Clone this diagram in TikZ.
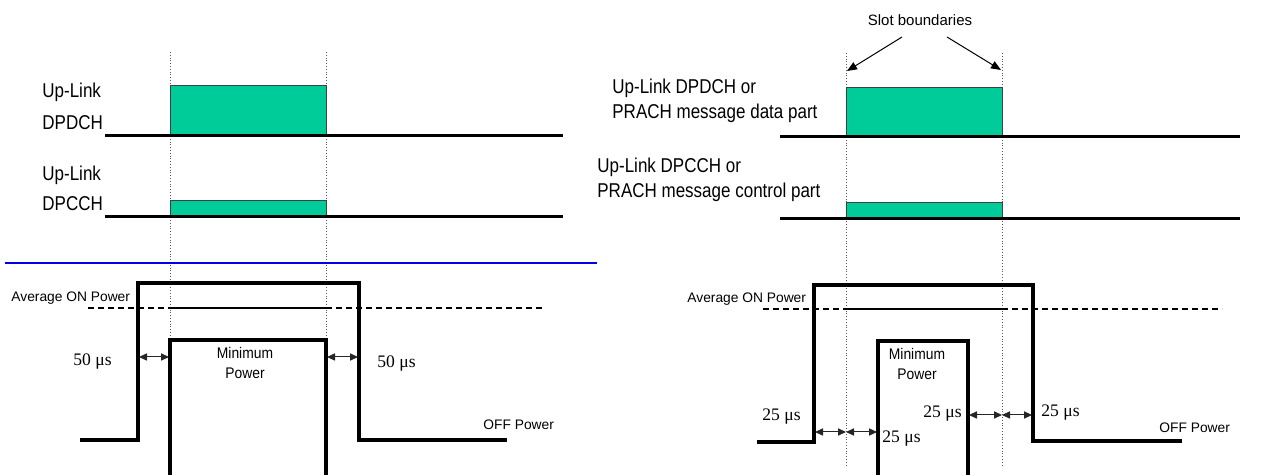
\documentclass[tikz,border=0pt]{standalone}
\usepackage{fontspec}
\setmainfont{Liberation Sans}
\newfontfamily\timesfont{Liberation Serif}
\newfontfamily\narrowsans[FakeStretch=0.85]{Liberation Sans}
\newfontfamily\minsans[FakeStretch=0.9]{Liberation Sans}
\usetikzlibrary{arrows.meta,positioning}
\definecolor{burstgreen}{RGB}{0,204,153}
\definecolor{dividerblue}{RGB}{0,0,230}
\tikzset{
    % channel time lines and bursts
    chanline/.style={line width=1.5pt, black},
    burst/.style={draw=black!75, fill=burstgreen, line width=0.5pt},
    slotmark/.style={densely dotted, line width=0.4pt, black!65},
    divider/.style={line width=1pt, dividerblue},
    % power mask
    powerline/.style={line width=2pt, black, line join=miter},
    avgdash/.style={line width=0.9pt, dash pattern=on 3pt off 2pt},
    avgsolid/.style={line width=1.4pt},
    gaparrow/.style={{Triangle[length=4pt,width=3.6pt]}-{Triangle[length=4pt,width=3.6pt]}, line width=0.5pt, black!85},
    pointer/.style={-{Triangle[length=5pt,width=4pt]}, line width=0.5pt},
}
\tikzset{
    % text styles
    chanlabel/.style={font=\narrowsans\fontsize{10}{12}\selectfont, anchor=base west, inner sep=0pt},
    smalllabel/.style={font=\fontsize{6.9}{8}\selectfont, anchor=base west, inner sep=0pt},
    minlabel/.style={font=\minsans\fontsize{7.7}{9}\selectfont, anchor=base, inner sep=0pt},
    timelabel/.style={font=\timesfont\fontsize{8.8}{10}\selectfont, anchor=base west, inner sep=0pt},
}

\begin{document}
\begin{tikzpicture}[x=0.5pt,y=-0.5pt]
    \useasboundingbox (0,0) rectangle (1265,475);

    % ---------- left: channels ----------
    \foreach \x in {170,326}{\draw[slotmark] (\x,52) -- (\x,340);}
    \draw[burst] (170,86) rectangle (326,136);
    \draw[burst] (170,201) rectangle (326,217);
    \draw[chanline] (105,136) -- (563,136);
    \draw[chanline] (105,217) -- (563,217);
    \node[chanlabel] (ulA) at (42,98) {Up-Link};
    \node[chanlabel] (dpdch) at (42,130) {DPDCH};
    \node[chanlabel] (ulB) at (42,181) {Up-Link};
    \node[chanlabel] (dpcch) at (42,211) {DPCCH};
    \draw[divider] (5,263) -- (597,263);

    % ---------- left: power mask ----------
    \coordinate (la) at (80,440);  \coordinate (lb) at (138,440);
    \coordinate (lc) at (138,283); \coordinate (ld) at (359,283);
    \coordinate (le) at (359,440); \coordinate (lf) at (507,440);
    \draw[powerline] (la) -- (lb) -- (lc) -- (ld) -- (le) -- (lf);
    \draw[powerline] (170,475) -- (170,340) -- (326,340) -- (326,475);
    \draw[avgdash] (88,308) -- (170,308);
    \draw[avgsolid] (170,308) -- (326,308);
    \draw[avgdash] (326,308) -- (545,308);
    \coordinate (lg1) at (139,357); \coordinate (lg2) at (169,357);
    \coordinate (lg3) at (327,357); \coordinate (lg4) at (358,357);
    \draw[gaparrow] (lg1) -- (lg2);
    \draw[gaparrow] (lg3) -- (lg4);
    \node[smalllabel] (avgL) at (11,302) {Average ON Power};
    \node[minlabel] (minL) at (245,359) {Minimum};
    \node[minlabel] (minLb) at (245,379) {Power};
    \node[timelabel] (tL1) at (73,366) {50 μs};
    \node[timelabel] (tL2) at (377,368) {50 μs};
    \node[smalllabel] (offL) at (483,430) {OFF Power};

    % ---------- right: channels ----------
    \foreach \x in {846,1002}{\draw[slotmark] (\x,53) -- (\x,467);}
    \draw[burst] (846,88) rectangle (1002,137);
    \draw[burst] (846,203) rectangle (1002,219);
    \draw[chanline] (780,137) -- (1240,137);
    \draw[chanline] (780,219) -- (1240,219);
    \node[chanlabel] (dataA) at (612,94) {Up-Link DPDCH or};
    \node[chanlabel] (dataB) at (612,119) {PRACH message data part};
    \node[chanlabel] (ctrlA) at (597,173) {Up-Link DPCCH or};
    \node[chanlabel] (ctrlB) at (597,198) {PRACH message control part};
    \node[font=\fontsize{7.5}{9}\selectfont, anchor=base, inner sep=0pt] (slot) at (920,26) {Slot boundaries};
    \coordinate (sbL) at (902,37);  \coordinate (sbLe) at (847,71);
    \coordinate (sbR) at (947,37);  \coordinate (sbRe) at (1001,70);
    \draw[pointer] (sbL) -- (sbLe);
    \draw[pointer] (sbR) -- (sbRe);

    % ---------- right: power mask ----------
    \coordinate (ra) at (757,442);  \coordinate (rb) at (814,442);
    \coordinate (rc) at (814,285);  \coordinate (rd) at (1033,285);
    \coordinate (re) at (1033,441); \coordinate (rf) at (1182,441);
    \draw[powerline] (ra) -- (rb) -- (rc) -- (rd) -- (re) -- (rf);
    \draw[powerline] (878,475) -- (878,341) -- (968,341) -- (968,475);
    \draw[avgdash] (763,309) -- (846,309);
    \draw[avgsolid] (846,309) -- (1002,309);
    \draw[avgdash] (1002,309) -- (1222,309);
    \coordinate (rg1) at (815,432); \coordinate (rg2) at (846,432); \coordinate (rg3) at (877,432);
    \coordinate (rg4) at (969,415); \coordinate (rg5) at (1002,415); \coordinate (rg6) at (1032,415);
    \draw[gaparrow] (rg1) -- (rg2);
    \draw[gaparrow] (rg2) -- (rg3);
    \draw[gaparrow] (rg4) -- (rg5);
    \draw[gaparrow] (rg5) -- (rg6);
    \node[smalllabel] (avgR) at (687,303) {Average ON Power};
    \node[minlabel] (minR) at (917,360) {Minimum};
    \node[minlabel] (minRb) at (917,380) {Power};
    \node[timelabel] (tR1) at (762,421) {25 μs};
    \node[timelabel] (tR2) at (882,443) {25 μs};
    \node[timelabel] (tR3) at (923,418) {25 μs};
    \node[timelabel] (tR4) at (1041,417) {25 μs};
    \node[smalllabel] (offR) at (1159,433) {OFF Power};
\end{tikzpicture}
\end{document}
